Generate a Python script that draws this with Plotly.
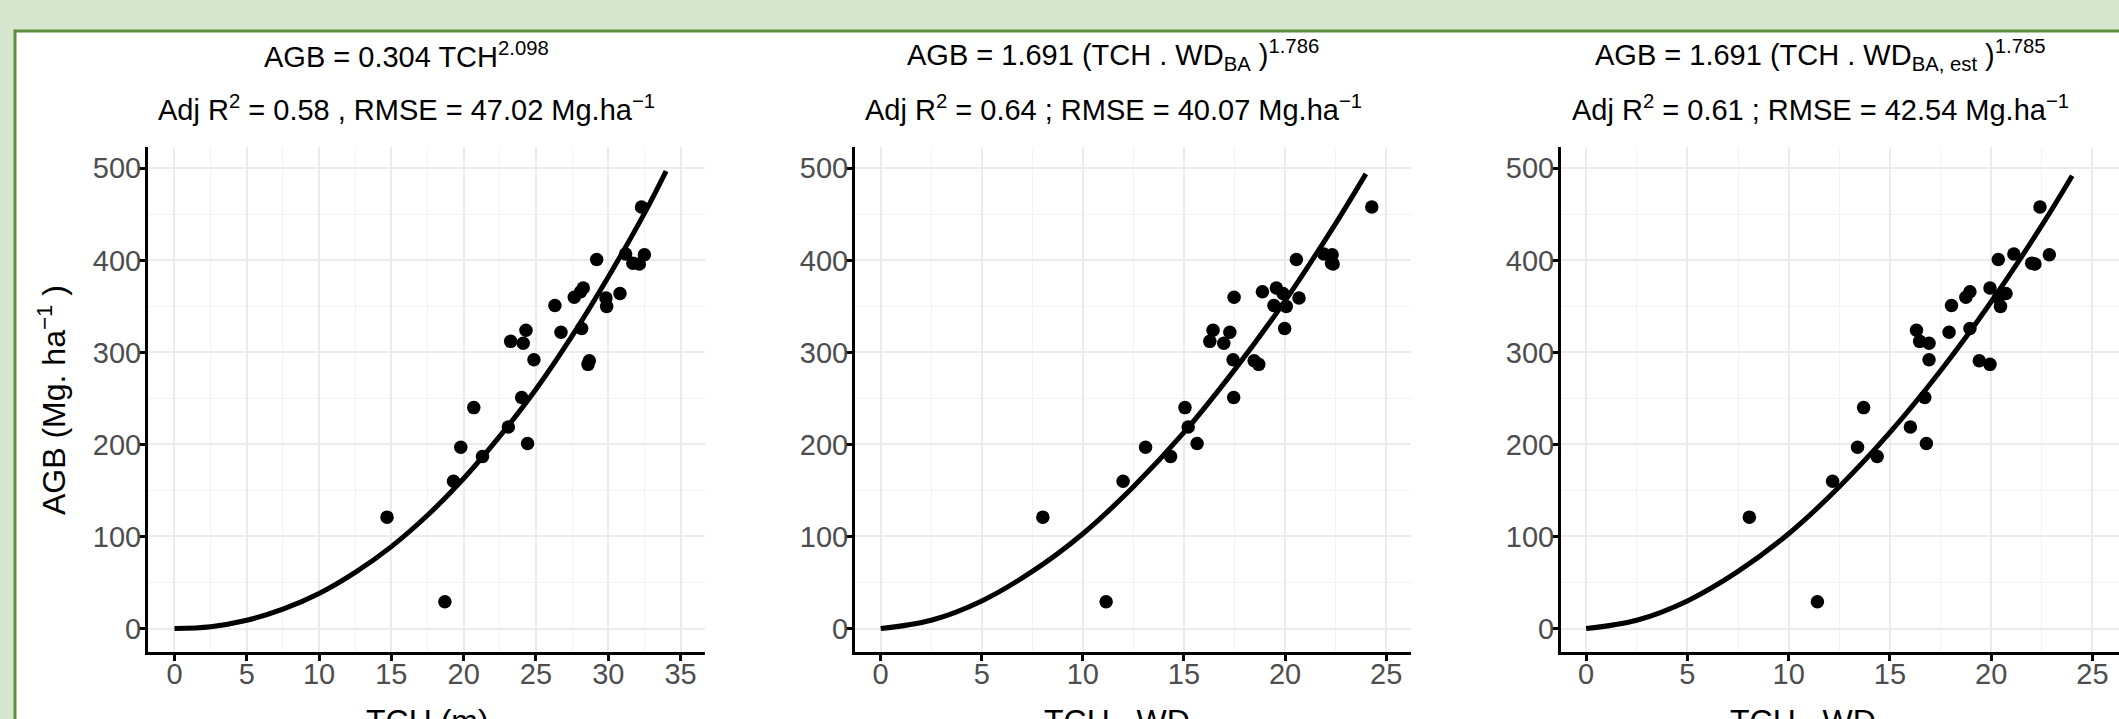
import plotly.graph_objects as go

# ---------------- data ----------------
agb = [458, 401, 407, 406, 397, 396, 370, 366, 364, 360, 359, 351, 350, 326, 324,
       322, 312, 310, 292, 291, 287, 251, 240, 219, 201, 197, 187, 160, 121, 29]
tch = [32.3, 29.2, 31.2, 32.5, 31.7, 32.15, 28.27, 28.09, 30.81, 27.65, 29.84, 26.31,
       29.89, 28.16, 24.31, 26.73, 23.25, 24.12, 24.86, 28.69, 28.6, 24.01, 20.7,
       23.09, 24.42, 19.8, 21.3, 19.3, 14.7, 18.7]
tch_wd_ba = [24.29, 20.56, 21.92, 22.33, 22.3, 22.38, 19.57, 18.88, 19.9, 17.48, 20.69,
             19.45, 20.06, 19.98, 16.44, 17.27, 16.28, 16.97, 17.43, 18.47, 18.7, 17.46,
             15.05, 15.21, 15.65, 13.1, 14.34, 11.99, 8.02, 11.15]
tch_wd_ba_est = [22.41, 20.35, 21.12, 22.87, 22.0, 22.16, 19.94, 18.95, 20.73, 18.75,
                 20.35, 18.04, 20.46, 18.95, 16.31, 17.92, 16.47, 16.93, 16.93, 19.41,
                 19.94, 16.72, 13.7, 16.01, 16.8, 13.4, 14.37, 12.17, 8.06, 11.42]

# fitted curves, values
fit1_x = [0, 2.5, 5, 7.5, 10, 12.5, 15, 17.5, 20, 22.5, 25, 27.5, 30, 32.5, 34]
fit1_y = [0, 2, 9, 21, 38, 61, 89, 123, 163, 209, 260, 318, 382, 451, 497]
fit2_x = [0, 2.5, 5, 7.5, 10, 12.5, 15, 17.5, 20, 22.5, 24]
fit2_y = [0, 9, 30, 62, 103, 154, 213, 281, 356, 440, 494]
fit3_x = [0, 2.5, 5, 7.5, 10, 12.5, 15, 17.5, 20, 22.5, 24]
fit3_y = [0, 9, 30, 62, 103, 154, 213, 280, 355, 438, 492]

titles_line1 = ["AGB = 0.304 TCH<sup>2.098</sup>",
                "AGB = 1.691 (TCH . WD<sub>BA</sub> )<sup>1.786</sup>",
                "AGB = 1.691 (TCH . WD<sub>BA, est</sub> )<sup>1.785</sup>"]
titles_line2 = ["Adj R<sup>2</sup> = 0.58 , RMSE = 47.02 Mg.ha<sup>\u22121</sup>",
                "Adj R<sup>2</sup> = 0.64 ; RMSE = 40.07 Mg.ha<sup>\u22121</sup>",
                "Adj R<sup>2</sup> = 0.61 ; RMSE = 42.54 Mg.ha<sup>\u22121</sup>"]
x_titles = ["TCH (m)", "TCH . WD<sub>BA</sub>", "TCH . WD<sub>BA, est</sub>"]
y_title = "AGB (Mg. ha<sup>\u22121</sup> )"
x_ticks = [[0, 5, 10, 15, 20, 25, 30, 35], [0, 5, 10, 15, 20, 25], [0, 5, 10, 15, 20, 25]]
y_ticks = [0, 100, 200, 300, 400, 500]

# ---------------- layout geometry ----------------
W, H = 2119, 719
def px(x):
    return x / W
def py(y):
    return 1 - y / H

FONT = "Liberation Sans, Arial, Helvetica, sans-serif"
x_domains = [[px(148), px(705)], [px(855), px(1411)], [px(1561), 1.0]]
x_ranges = [[-1.83, 36.69], [-1.27, 26.23], [-1.24, 26.31]]
y_domain = [py(651.7), py(146.7)]
y_range = [-25.2, 523.5]
title_cx = [406, 1113, 1820]
xtitle_cx = [427, 1132, 1839]

fig = go.Figure()
pts = [tch, tch_wd_ba, tch_wd_ba_est]
fits = [(fit1_x, fit1_y), (fit2_x, fit2_y), (fit3_x, fit3_y)]

for i in range(3):
    sfx = "" if i == 0 else str(i + 1)
    fig.add_trace(go.Scatter(x=fits[i][0], y=fits[i][1], mode="lines",
                             line=dict(color="black", width=5, shape="spline"),
                             xaxis="x" + sfx, yaxis="y" + sfx, showlegend=False,
                             hoverinfo="skip"))
    fig.add_trace(go.Scatter(x=pts[i], y=agb, mode="markers",
                             marker=dict(color="black", size=13.5, line=dict(width=0)),
                             xaxis="x" + sfx, yaxis="y" + sfx, showlegend=False,
                             cliponaxis=False))

axis_common = dict(showline=True, linecolor="black", linewidth=3, ticks="outside",
                   ticklen=6, tickwidth=2.5, tickcolor="black", zeroline=False,
                   showgrid=True, gridcolor="#ebebeb", gridwidth=2, automargin=False,
                   tickfont=dict(family=FONT, size=29, color="#4d4d4d"), mirror=False)

layout = dict(template="none", width=W, height=H,
              margin=dict(l=0, r=0, t=0, b=0, pad=0, autoexpand=False),
              paper_bgcolor="#d6e5cd", plot_bgcolor="white",
              font=dict(family=FONT, color="black"), showlegend=False)

for i in range(3):
    sfx = "" if i == 0 else str(i + 1)
    layout["xaxis" + sfx] = dict(axis_common, domain=x_domains[i], range=x_ranges[i],
                                 tickvals=x_ticks[i], anchor="y" + sfx,
                                 ticklabelstandoff=-12,
                                 minor=dict(dtick=2.5, tick0=0, showgrid=True,
                                            gridcolor="#f3f3f3", gridwidth=1, ticks=""))
    layout["yaxis" + sfx] = dict(axis_common, domain=y_domain, range=y_range,
                                 tickvals=y_ticks, anchor="x" + sfx,
                                 ticklabelstandoff=-8,
                                 minor=dict(dtick=50, tick0=0, showgrid=True,
                                            gridcolor="#f3f3f3", gridwidth=1, ticks=""))

annotations = []
for i in range(3):
    annotations.append(dict(text=titles_line1[i], x=px(title_cx[i]), y=py(55),
                            xref="paper", yref="paper", xanchor="center", yanchor="middle",
                            showarrow=False, font=dict(family=FONT, size=29, color="black")))
    annotations.append(dict(text=titles_line2[i], x=px(title_cx[i]), y=py(108),
                            xref="paper", yref="paper", xanchor="center", yanchor="middle",
                            showarrow=False, font=dict(family=FONT, size=29, color="black")))
    annotations.append(dict(text=x_titles[i], x=px(xtitle_cx[i]), y=py(701),
                            xref="paper", yref="paper", xanchor="center", yanchor="top",
                            showarrow=False, font=dict(family=FONT, size=32, color="black")))
annotations.append(dict(text=y_title, x=px(52), y=py(400), xref="paper", yref="paper",
                        xanchor="center", yanchor="middle", textangle=-90, showarrow=False,
                        font=dict(family=FONT, size=32, color="black")))
layout["annotations"] = annotations

layout["shapes"] = [dict(type="rect", xref="paper", yref="paper",
                         x0=px(15), x1=1.02, y0=-0.05, y1=py(31),
                         fillcolor="white", line=dict(color="#5f8a41", width=3),
                         layer="below")]

fig.update_layout(layout)
fig.write_html("out.html", config={"displayModeBar": False},
               post_script="document.body.style.margin='0';"
                           "document.body.style.overflow='hidden';")
